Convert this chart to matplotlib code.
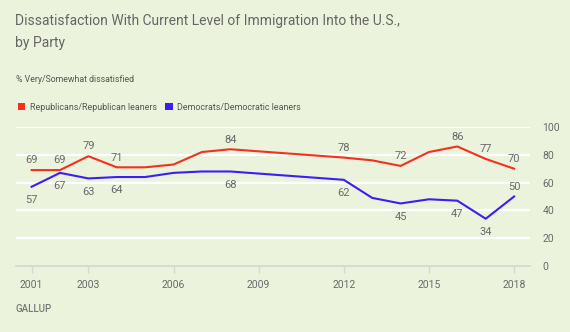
import matplotlib
matplotlib.use("Agg")
import matplotlib.pyplot as plt
from matplotlib.patches import Patch

plt.rcParams["font.family"] = ["Roboto", "DejaVu Sans"]

# data (no survey 2009-2011)
years = [2001, 2002, 2003, 2004, 2005, 2006, 2007, 2008, 2012, 2013, 2014, 2015, 2016, 2017, 2018]
rep = [69, 69, 79, 71, 71, 73, 82, 84, 78, 76, 72, 82, 86, 77, 70]
dem = [57, 67, 63, 64, 64, 67, 68, 68, 62, 49, 45, 48, 47, 34, 50]
labelled_years = [2001, 2002, 2003, 2004, 2008, 2012, 2014, 2016, 2017, 2018]
dem_label_above = [2018]
xticks = [2001, 2003, 2006, 2009, 2012, 2015, 2018]
yticks = [0, 20, 40, 60, 80, 100]

BG = "#ebf3dc"
RED = "#f4301f"
BLUE = "#3b1ef5"
TXT = "#6a6a6a"

W, H = 570, 332
fig = plt.figure(figsize=(W / 100, H / 100), dpi=100, facecolor=BG)
ax = fig.add_axes([16 / W, 1 - 266 / H, (530 - 16) / W, (266 - 127) / H], facecolor=BG)

for y in yticks[1:]:
    ax.axhline(y, color="white", lw=1.6, zorder=1)

ax.plot(years, rep, color=RED, lw=1.5, zorder=3)
ax.plot(years, dem, color=BLUE, lw=1.5, zorder=3)

for x, r, d in zip(years, rep, dem):
    if x not in labelled_years:
        continue
    ax.annotate(str(r), (x, r), xytext=(0, 7), textcoords="offset points",
                ha="center", va="center", fontsize=8, color=TXT)
    off = 7 if x in dem_label_above else -9.5
    ax.annotate(str(d), (x, d), xytext=(0, off), textcoords="offset points",
                ha="center", va="center", fontsize=8, color=TXT)

ax.set_xlim(2000.45, 2018.56)
ax.set_ylim(0, 100)
ax.set_xticks(xticks)
ax.set_xticklabels([str(t) for t in xticks])
ax.set_yticks(yticks)
ax.yaxis.tick_right()
ax.tick_params(axis="y", length=0, pad=9, labelsize=7.5, labelcolor=TXT)
ax.tick_params(axis="x", length=5, width=1, color="#d3d8d0", pad=5, labelsize=7.5, labelcolor=TXT)
for s in ["top", "left", "right"]:
    ax.spines[s].set_visible(False)
ax.spines["bottom"].set_color("#d3d8d0")
ax.spines["bottom"].set_linewidth(1.2)

fig.text(15 / W, 1 - 32 / H, "Dissatisfaction With Current Level of Immigration Into the U.S.,\nby Party",
         fontsize=10, color="#666666", ha="left", va="center", linespacing=1.7)
fig.text(16 / W, 1 - 80 / H, "% Very/Somewhat dissatisfied", fontsize=6.3, color="#555555",
         ha="left", va="center")

handles = [Patch(facecolor=RED, edgecolor="none"), Patch(facecolor=BLUE, edgecolor="none")]
leg = fig.legend(handles, ["Republicans/Republican leaners", "Democrats/Democratic leaners"],
                 loc="center left", bbox_to_anchor=(10 / W, 1 - 107 / H), ncol=2, frameon=False,
                 handlelength=0.8, handleheight=0.8, handletextpad=0.5, columnspacing=1.0,
                 fontsize=6.4)
for t in leg.get_texts():
    t.set_color("#555555")

fig.text(16 / W, 1 - 309 / H, "GALLUP", fontsize=7, color="#777777", ha="left", va="center",
         fontweight="medium")

fig.savefig("out.png", dpi=100, facecolor=BG)
